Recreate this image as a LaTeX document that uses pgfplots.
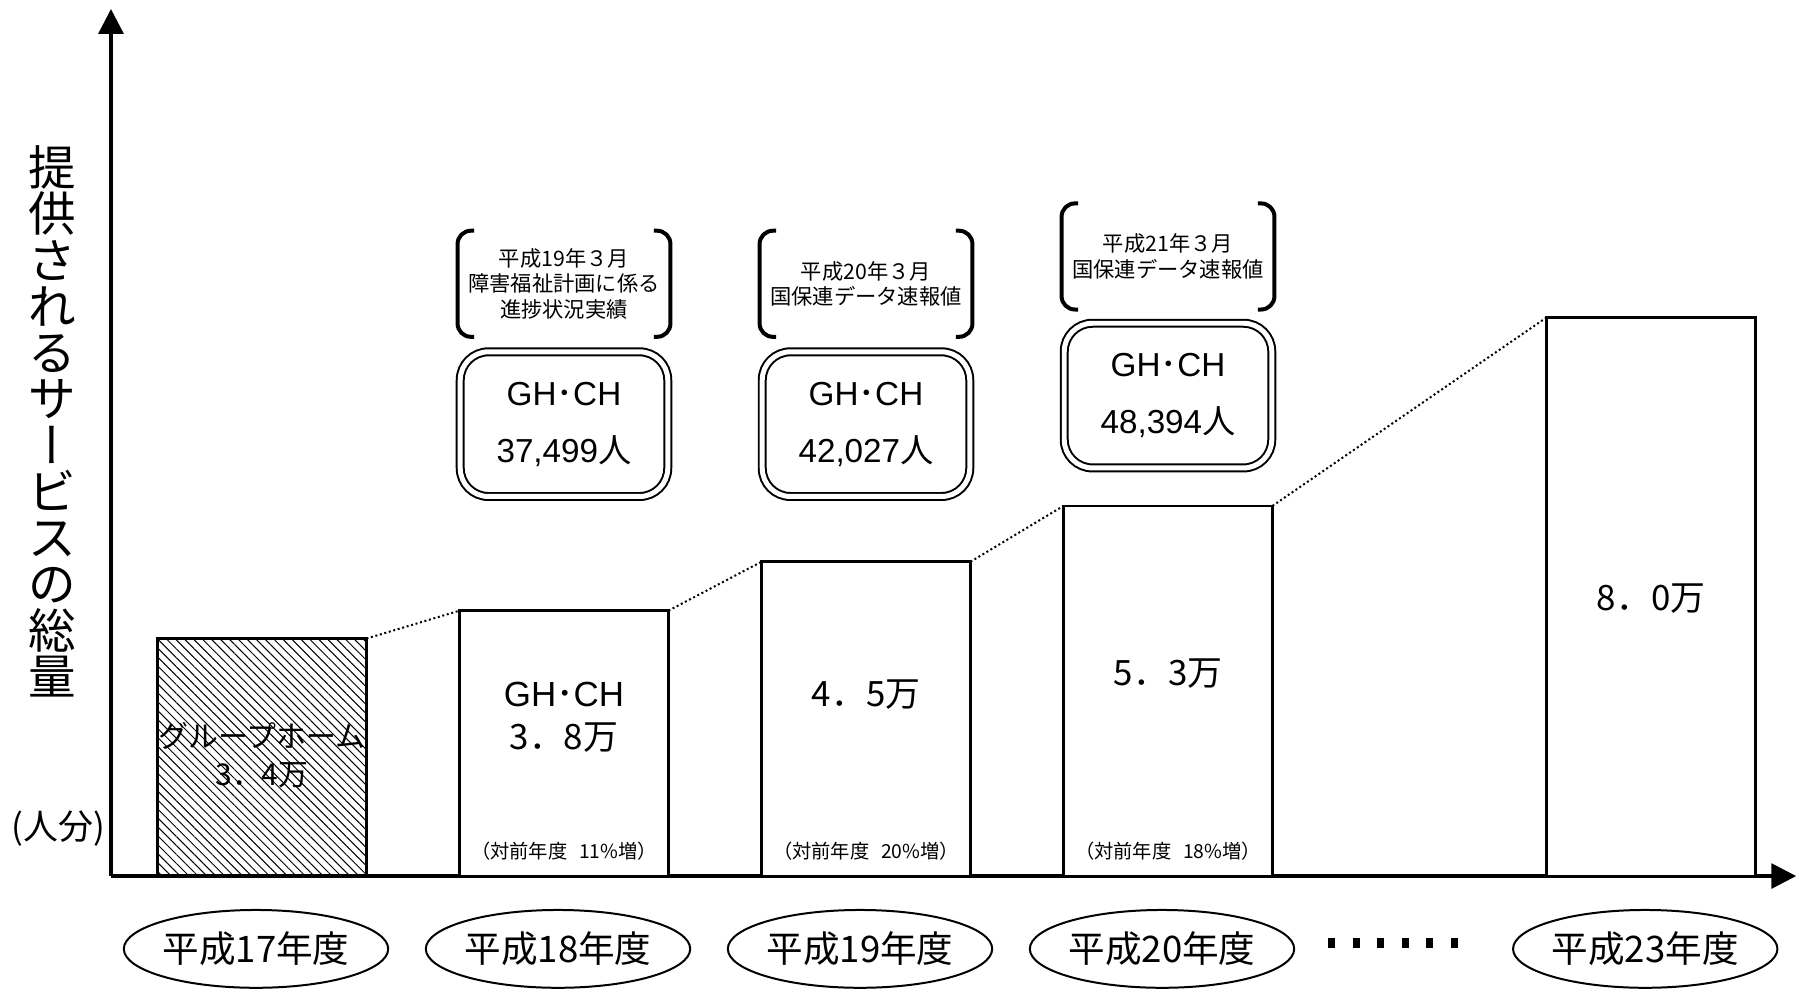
\documentclass[border=0pt]{standalone}
\usepackage{fontspec}
\setmainfont{Noto Sans CJK JP}
\newfontfamily\jpvert[RawFeature=+vert]{Noto Sans CJK JP}
\newfontfamily\lat{Liberation Sans}
\usepackage{pgfplots}
\pgfplotsset{compat=1.18}
\usetikzlibrary{arrows.meta,patterns.meta,shapes.geometric}

\newcommand{\ghch}{{\lat GH}･{\lat CH}}
\newcommand{\ylfont}{\fontsize{14.3pt}{13.9pt}\selectfont\lineskiplimit-20pt\relax}
\tikzset{
  axarrow/.style={-{Triangle[length=7.5pt,width=7.5pt]}},
  bracketbox/.style={minimum width=63.6pt, minimum height=31.5pt, inner sep=0pt, align=center,
     font=\fontsize{6.4pt}{7.65pt}\selectfont},
  gbox/.style={draw, double, double distance=1.5pt, line width=0.6pt, rounded corners=8.5pt,
     minimum width=62.4pt, minimum height=43.5pt, inner sep=0pt, align=center,
     font=\fontsize{10pt}{17.1pt}\selectfont},
  brk/.style={line width=1.2pt, rounded corners=4pt},
}
\pgfplotsset{
  conn/.style={sharp plot, no marks, black, line width=0.6pt, dash pattern=on 0.6pt off 0.8pt, forget plot},
}

\begin{document}
\begin{tikzpicture}
\begin{axis}[
  scale only axis, width=506.7pt, height=260.7pt,
  xmin=-0.5, xmax=5.08, ymin=0, ymax=12.414,
  axis lines=left,
  axis line style={line width=1pt},
  every outer x axis line/.append style={axarrow},
  every outer y axis line/.append style={axarrow},
  x axis line style={axarrow},
  y axis line style={axarrow},
  ytick=\empty,
  xtick={0,1,2,3,4.6},
  xticklabels={平成17年度,平成18年度,平成19年度,平成20年度,平成23年度},
  major tick length=0pt,
  xticklabel style={draw, ellipse, line width=0.6pt, minimum width=74pt, minimum height=23.4pt,
     inner sep=0pt, anchor=north, yshift=-9.9pt, xshift=-1.8pt, font=\fontsize{11pt}{13pt}\selectfont},
  clip=false,
]
% bars
\addplot[ybar, bar width=0.692, draw=black, line width=0.8pt,
  pattern={Lines[angle=-45,distance=1.9pt,line width=0.3pt]}] coordinates {(0,3.4)};
\addplot[ybar, bar width=0.692, draw=black, line width=0.8pt, fill=white]
  coordinates {(1,3.8) (2,4.5) (3,5.3) (4.6,8.0)};
% dotted connectors between bar tops
\addplot[conn] coordinates {(0.346,3.4) (0.654,3.8)};
\addplot[conn] coordinates {(1.346,3.8) (1.654,4.5)};
\addplot[conn] coordinates {(2.346,4.5) (2.654,5.3)};
\addplot[conn] coordinates {(3.346,5.3) (4.254,8.0)};

% bar texts
\node[align=center, font=\fontsize{9pt}{11.4pt}\selectfont] at (axis cs:0,1.73) {グループホーム\\3．4万};
\node[align=center, font=\fontsize{10.5pt}{12.9pt}\selectfont] at (axis cs:1,2.28) {\ghch\\3．8万};
\node[font=\fontsize{10.5pt}{12.9pt}\selectfont] at (axis cs:2,2.6) {4．5万};
\node[font=\fontsize{10.5pt}{12.9pt}\selectfont] at (axis cs:3,2.9) {5．3万};
\node[font=\fontsize{10.5pt}{12.9pt}\selectfont] at (axis cs:4.6,3.97) {8．0万};
\node[font=\fontsize{5.8pt}{7pt}\selectfont] at (axis cs:1,0.357) {（対前年度\hspace{0.6em}11\%増）};
\node[font=\fontsize{5.8pt}{7pt}\selectfont] at (axis cs:2,0.357) {（対前年度\hspace{0.6em}20\%増）};
\node[font=\fontsize{5.8pt}{7pt}\selectfont] at (axis cs:3,0.357) {（対前年度\hspace{0.6em}18\%増）};

% GH・CH boxes
\node[gbox] at (axis cs:1,6.47) {\ghch\\{\lat 37,499}人};
\node[gbox] at (axis cs:2,6.47) {\ghch\\{\lat 42,027}人};
\node[gbox] at (axis cs:3,6.879) {\ghch\\{\lat 48,394}人};

% bracketed notes
\node[bracketbox] (b1) at (axis cs:1,8.48) {平成19年３月\\障害福祉計画に係る\\進捗状況実績};
\node[bracketbox] (b2) at (axis cs:2,8.48) {平成20年３月\\国保連データ速報値};
\node[bracketbox] (b3) at (axis cs:3,8.871) {平成21年３月\\国保連データ速報値};
\draw[brk] ([xshift=5pt]b1.north west) -- (b1.north west) -- (b1.south west) -- ([xshift=5pt]b1.south west);
\draw[brk] ([xshift=-5pt]b1.north east) -- (b1.north east) -- (b1.south east) -- ([xshift=-5pt]b1.south east);
\draw[brk] ([xshift=5pt]b2.north west) -- (b2.north west) -- (b2.south west) -- ([xshift=5pt]b2.south west);
\draw[brk] ([xshift=-5pt]b2.north east) -- (b2.north east) -- (b2.south east) -- ([xshift=-5pt]b2.south east);
\draw[brk] ([xshift=5pt]b3.north west) -- (b3.north west) -- (b3.south west) -- ([xshift=5pt]b3.south west);
\draw[brk] ([xshift=-5pt]b3.north east) -- (b3.north east) -- (b3.south east) -- ([xshift=-5pt]b3.south east);

% y label and unit
\node[align=center, font=\ylfont] at (axis cs:-0.695,6.51)
  {提\\供\\さ\\れ\\る\\サ\\{\jpvert ー}\\ビ\\ス\\の\\総\\量};
\node[font=\fontsize{10.5pt}{12pt}\selectfont] at (axis cs:-0.675,0.686) {(人分)};

% ellipsis dots between categories
\node[inner sep=0pt] at (axis cs:3.745,-0.957)
  {\rule{2.1pt}{3pt}\hspace{5.25pt}\rule{2.1pt}{3pt}\hspace{5.25pt}\rule{2.1pt}{3pt}\hspace{5.25pt}\rule{2.1pt}{3pt}\hspace{5.25pt}\rule{2.1pt}{3pt}\hspace{5.25pt}\rule{2.1pt}{3pt}};

\coordinate (BL) at (axis cs:-0.8675,-1.643);
\coordinate (TR) at (axis cs:5.0927,12.543);
\end{axis}
\pgfresetboundingbox
\path[use as bounding box] (BL) rectangle (TR);
\end{tikzpicture}
\end{document}
